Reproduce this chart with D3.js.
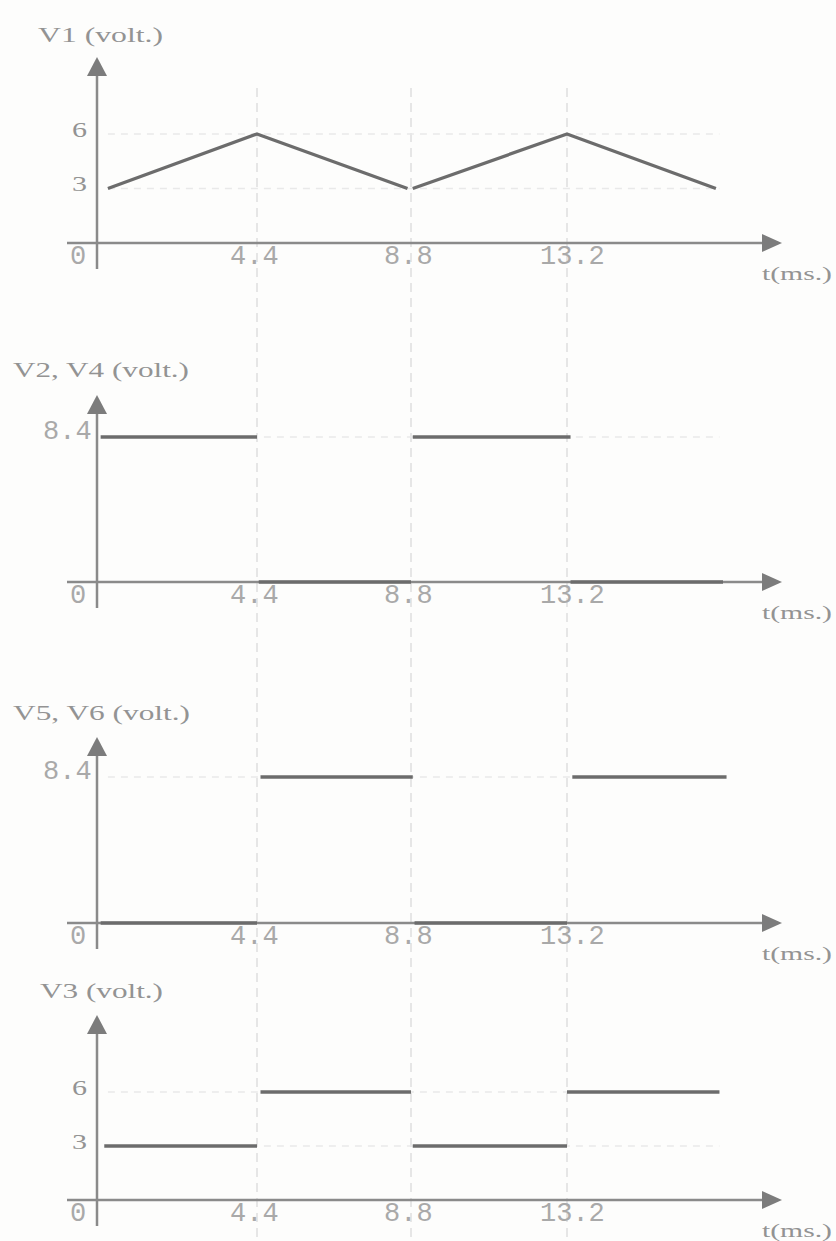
<!DOCTYPE html>
<html lang="en">

<head>
    <meta charset="UTF-8">
    <title>Voltage waveforms</title>
    <script src="https://cdn.jsdelivr.net/npm/d3@7"></script>
    <style>
        body {
            margin: 0;
            background-color: #fdfdfc;
        }

        .serif {
            font-family: "Liberation Serif", "DejaVu Serif", serif;
            fill: #939393;
        }

        .mono {
            font-family: "Liberation Mono", "DejaVu Sans Mono", monospace;
            fill: #a9a9a9;
        }
    </style>
</head>

<body>
    <svg id="chart" width="836" height="1241"></svg>

    <script>
        // time ticks shared by every panel
        const timeTicks = [0, 4.4, 8.8, 13.2];
        const timeLabels = ["0", "4.4", "8.8", "13.2"];

        // V1: triangle wave, two ramps up/down
        const v1Lines = [
            [[0.3, 3], [4.4, 6], [8.7, 3]],
            [[8.85, 3], [13.2, 6], [17.4, 3]]
        ];
        // square waves as [start, end, level]
        const v24Steps = [[0.1, 4.4, 8.4], [4.45, 8.8, 0], [8.85, 13.3, 8.4], [13.3, 17.6, 0]];
        const v56Steps = [[0.1, 4.4, 0], [4.5, 8.85, 8.4], [8.9, 13.2, 0], [13.35, 17.7, 8.4]];
        const v3Steps = [[0.2, 4.4, 3], [4.5, 8.8, 6], [8.85, 13.2, 3], [13.2, 17.5, 6]];

        const v1Ticks = [3, 6];
        const v24Ticks = [8.4];
        const v56Ticks = [8.4];
        const v3Ticks = [3, 6];

        const svg = d3.select("#chart");

        const x = d3.scaleLinear()
            .domain([0, 4.4, 8.8, 13.2])
            .range([97, 257, 411, 567]);

        const panels = [
            { title: "V1 (volt.)", titleX: 38, titleY: 35, titleW: 125, axisY: 243, tipY: 57, top: 6, topPx: 134, ticks: v1Ticks, mono: false, lines: v1Lines },
            { title: "V2, V4 (volt.)", titleX: 13, titleY: 370, titleW: 176, axisY: 582, tipY: 395, top: 8.4, topPx: 437, ticks: v24Ticks, mono: true, steps: v24Steps },
            { title: "V5, V6 (volt.)", titleX: 13, titleY: 713, titleW: 177, axisY: 923, tipY: 737, top: 8.4, topPx: 777, ticks: v56Ticks, mono: true, steps: v56Steps },
            { title: "V3 (volt.)", titleX: 40, titleY: 991, titleW: 123, axisY: 1200, tipY: 1015, top: 6, topPx: 1092, ticks: v3Ticks, mono: false, steps: v3Steps }
        ];

        const axisColor = "#8a8a8a";
        const signalColor = "#6c6c6c";

        // faint vertical dashed guides through all panels
        svg.selectAll(".guide")
            .data(timeTicks.slice(1))
            .enter().append("line")
            .attr("class", "guide")
            .attr("x1", d => x(d))
            .attr("x2", d => x(d))
            .attr("y1", 88)
            .attr("y2", 1241)
            .attr("stroke", "#dedede")
            .attr("stroke-width", 1.5)
            .attr("stroke-dasharray", "9 6");

        panels.forEach(p => {
            const y = d3.scaleLinear().domain([0, p.top]).range([p.axisY, p.topPx]);
            const g = svg.append("g");

            // horizontal dashed guides at the labelled levels
            g.selectAll(".hguide")
                .data(p.ticks)
                .enter().append("line")
                .attr("x1", x(0.3))
                .attr("x2", x(17.5))
                .attr("y1", d => y(d))
                .attr("y2", d => y(d))
                .attr("stroke", "#e9e9e9")
                .attr("stroke-width", 1.5)
                .attr("stroke-dasharray", "7 6");

            // axes
            g.append("line")
                .attr("x1", 67).attr("x2", 764)
                .attr("y1", p.axisY).attr("y2", p.axisY)
                .attr("stroke", axisColor).attr("stroke-width", 2.5);
            g.append("line")
                .attr("x1", x(0)).attr("x2", x(0))
                .attr("y1", p.tipY + 10).attr("y2", p.axisY + 26)
                .attr("stroke", axisColor).attr("stroke-width", 2.5);

            g.append("path")
                .attr("d", `M${x(0)},${p.tipY} L${x(0) - 10},${p.tipY + 19} L${x(0) + 10},${p.tipY + 19} Z`)
                .attr("fill", "#7c7c7c");
            g.append("path")
                .attr("d", `M782,${p.axisY} L762,${p.axisY - 9} L762,${p.axisY + 9} Z`)
                .attr("fill", "#7c7c7c");

            // title and unit
            g.append("text")
                .attr("class", "serif")
                .attr("x", p.titleX)
                .attr("y", p.titleY)
                .attr("dominant-baseline", "central")
                .attr("font-size", 21)
                .attr("textLength", p.titleW)
                .attr("lengthAdjust", "spacingAndGlyphs")
                .text(p.title);

            g.append("text")
                .attr("class", "serif")
                .attr("x", 762)
                .attr("y", p.axisY + 30)
                .attr("dominant-baseline", "central")
                .attr("font-size", 19)
                .attr("textLength", 70)
                .attr("lengthAdjust", "spacingAndGlyphs")
                .text("t(ms.)");

            // time tick labels
            g.selectAll(".tlabel")
                .data(timeTicks)
                .enter().append("text")
                .attr("class", "mono")
                .attr("x", (d, i) => i === 0 ? 70 : x(d) - 27)
                .attr("y", p.axisY + 14)
                .attr("dominant-baseline", "central")
                .attr("font-size", 27)
                .text((d, i) => timeLabels[i]);

            // level labels
            g.selectAll(".vlabel")
                .data(p.ticks)
                .enter().append("text")
                .attr("class", p.mono ? "mono" : "serif")
                .attr("x", p.mono ? 43 : 87)
                .attr("y", d => y(d) - 5)
                .attr("text-anchor", p.mono ? "start" : "end")
                .attr("dominant-baseline", "central")
                .attr("font-size", p.mono ? 27 : 22)
                .attr("textLength", p.mono ? null : 15)
                .attr("lengthAdjust", "spacingAndGlyphs")
                .text(d => d);

            // signal
            const line = d3.line().x(d => x(d[0])).y(d => y(d[1]));
            const lines = p.lines || p.steps.map(s => [[s[0], s[2]], [s[1], s[2]]]);

            g.selectAll(".signal")
                .data(lines)
                .enter().append("path")
                .attr("d", line)
                .attr("fill", "none")
                .attr("stroke", signalColor)
                .attr("stroke-width", 3.3)
                .attr("stroke-linejoin", "round");
        });
    </script>
</body>

</html>
